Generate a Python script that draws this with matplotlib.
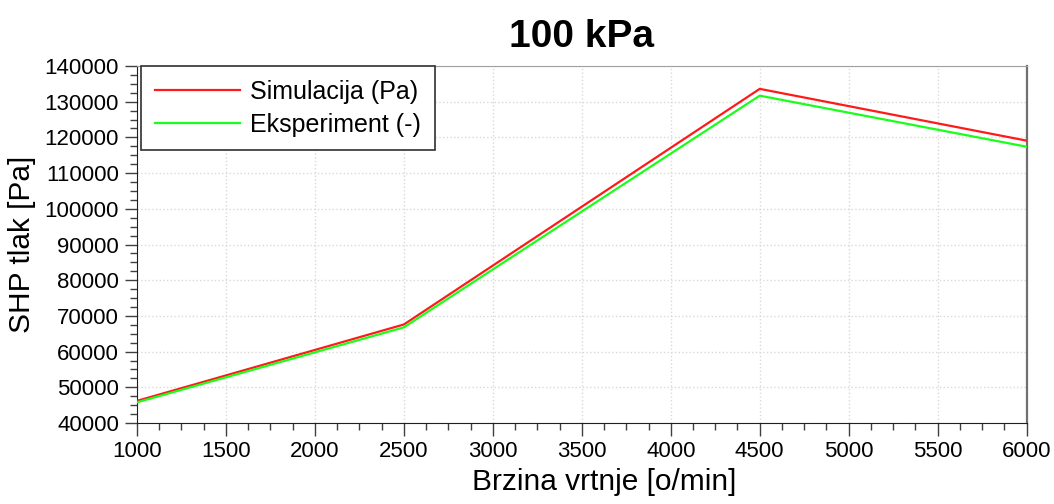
import numpy as np
import matplotlib
matplotlib.use('Agg')
import matplotlib.pyplot as plt
from matplotlib.ticker import MultipleLocator

plt.rcParams['font.family'] = ['Liberation Sans', 'DejaVu Sans']

# data
brzina = [1000, 2500, 4500, 6000]
simulacija = [46200, 67600, 133600, 119100]
eksperiment = [45800, 66800, 131700, 117400]

fig = plt.figure(figsize=(10.54, 5.04), dpi=100)
ax = fig.add_axes([0.130, 0.1607, 0.844, 0.7083])

ax.plot(brzina, simulacija, color='#ff1a1a', lw=1.6, label='Simulacija (Pa)', zorder=3)
ax.plot(brzina, eksperiment, color='#1aff1a', lw=1.6, label='Eksperiment (-)', zorder=3)

ax.set_xlim(1000, 6000)
ax.set_ylim(40000, 140000)
ax.xaxis.set_major_locator(MultipleLocator(500))
ax.xaxis.set_minor_locator(MultipleLocator(125))
ax.yaxis.set_major_locator(MultipleLocator(10000))
ax.yaxis.set_minor_locator(MultipleLocator(2500))

ax.grid(True, which='major', color='#d9d9d9', linestyle=':', lw=1.0)
ax.tick_params(which='major', length=9, width=1, color='#404040', labelsize=16, pad=4)
ax.tick_params(which='minor', length=5, width=1, color='#404040')

for s in ['left', 'bottom']:
    ax.spines[s].set_color('#202020')
ax.spines['top'].set_color('#a0a0a0')
ax.spines['right'].set_color('#707070')
ax.spines['right'].set_linewidth(1.6)

ax.set_title('100 kPa', fontsize=28, fontweight='bold', pad=14)
ax.set_xlabel('Brzina vrtnje [o/min]', fontsize=21.5)
ax.xaxis.set_label_coords(0.525, -0.125)
ax.set_ylabel('SHP tlak [Pa]', fontsize=21.5, labelpad=6)

leg = ax.legend(loc='upper left', bbox_to_anchor=(0.005, 1.0), fontsize=18,
                frameon=True, fancybox=False, borderaxespad=0, handlelength=3.4,
                handletextpad=0.4, labelspacing=0.35, borderpad=0.55)
leg.get_frame().set_edgecolor('#303030')
leg.get_frame().set_linewidth(1.2)
leg.get_frame().set_alpha(1)

fig.savefig('out.png', dpi=100)
